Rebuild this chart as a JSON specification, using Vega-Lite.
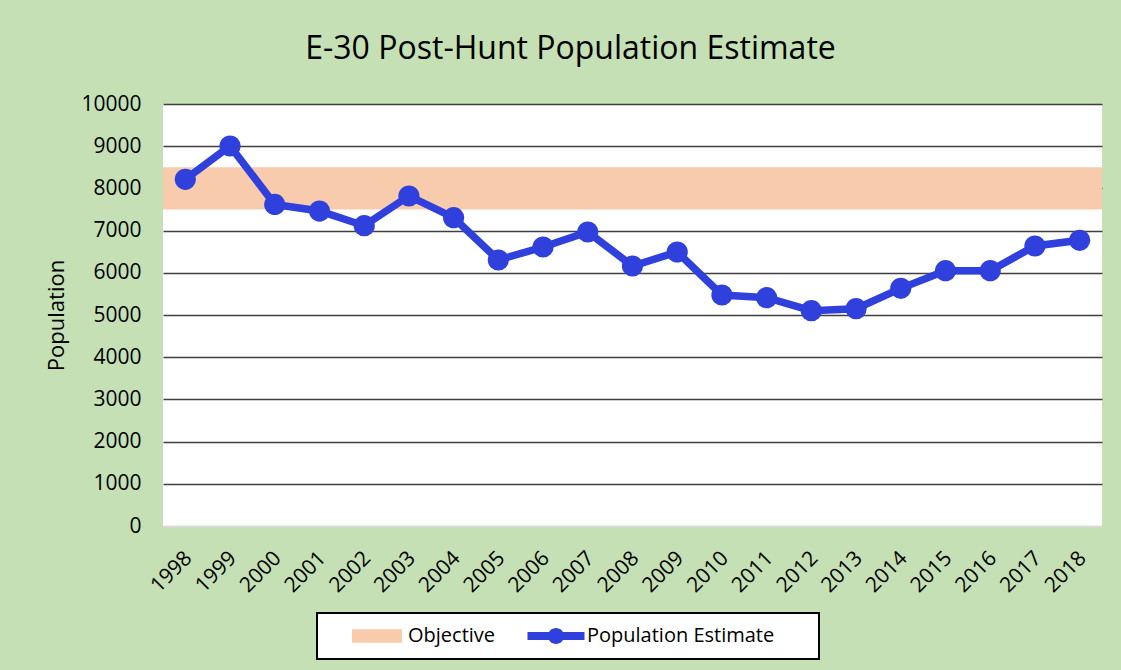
{
  "$schema": "https://vega.github.io/schema/vega-lite/v6.json",
  "width": 939,
  "height": 422,
  "autosize": {"type": "none"},
  "padding": {"left": 163, "top": 104, "right": 19, "bottom": 144},
  "background": "#C5E0B4",
  "title": {
    "text": "E-30 Post-Hunt Population Estimate",
    "font": "Open Sans",
    "fontSize": 32,
    "fontWeight": "normal",
    "color": "#000000",
    "anchor": "middle",
    "frame": "group",
    "dx": -62,
    "offset": 27
  },
  "config": {
    "view": {"fill": "#FFFFFF", "stroke": null},
    "font": "Open Sans"
  },
  "datasets": {
    "pop": [
      {"year": "1998", "value": 8215, "series": "Population Estimate"},
      {"year": "1999", "value": 9005, "series": "Population Estimate"},
      {"year": "2000", "value": 7620, "series": "Population Estimate"},
      {"year": "2001", "value": 7464, "series": "Population Estimate"},
      {"year": "2002", "value": 7116, "series": "Population Estimate"},
      {"year": "2003", "value": 7820, "series": "Population Estimate"},
      {"year": "2004", "value": 7306, "series": "Population Estimate"},
      {"year": "2005", "value": 6303, "series": "Population Estimate"},
      {"year": "2006", "value": 6611, "series": "Population Estimate"},
      {"year": "2007", "value": 6967, "series": "Population Estimate"},
      {"year": "2008", "value": 6161, "series": "Population Estimate"},
      {"year": "2009", "value": 6493, "series": "Population Estimate"},
      {"year": "2010", "value": 5474, "series": "Population Estimate"},
      {"year": "2011", "value": 5410, "series": "Population Estimate"},
      {"year": "2012", "value": 5102, "series": "Population Estimate"},
      {"year": "2013", "value": 5150, "series": "Population Estimate"},
      {"year": "2014", "value": 5632, "series": "Population Estimate"},
      {"year": "2015", "value": 6050, "series": "Population Estimate"},
      {"year": "2016", "value": 6050, "series": "Population Estimate"},
      {"year": "2017", "value": 6635, "series": "Population Estimate"},
      {"year": "2018", "value": 6770, "series": "Population Estimate"}
    ],
    "band": [
      {"lo": 7500, "hi": 8500, "series": "Objective"}
    ]
  },
  "layer": [
    {
      "data": {"name": "band"},
      "mark": {"type": "rect", "opacity": 1},
      "encoding": {
        "y": {"field": "lo", "type": "quantitative", "scale": {"domain": [0, 10000], "nice": false}},
        "y2": {"field": "hi"},
        "color": {
          "field": "series",
          "type": "nominal",
          "scale": {"domain": ["Objective", "Population Estimate"], "range": ["#F8CBAD", "#3040DD"]},
          "legend": {
            "title": " ",
            "titleOrient": "right",
            "titlePadding": 32,
            "titleFontSize": 20,
            "orient": "none",
            "direction": "horizontal",
            "columns": 2,
            "legendX": 154,
            "legendY": 509,
            "padding": 13,
            "columnPadding": 13,
            "symbolSize": 400,
            "symbolOffset": 37,
            "labelOffset": 21,
            "labelLimit": 400,
            "labelFontSize": 20,
            "labelColor": "#000000",
            "labelFont": "Open Sans",
            "fillColor": "#FFFFFF",
            "strokeColor": "#000000",
            "symbolOpacity": 1,
            "symbolStrokeWidth": 0,
            "encode": {
              "legend": {"update": {"strokeWidth": {"value": 2}}},
              "symbols": {
                "update": {
                  "shape": {"signal": "datum.value === 'Objective' ? 'M-2.5,-0.68L2.5,-0.68L2.5,0.68L-2.5,0.68Z' : 'M-2.85,-0.4L2.85,-0.4L2.85,0.4L-2.85,0.4Z M-0.8,0A0.8,0.8 0 1,1 0.8,0A0.8,0.8 0 1,1 -0.8,0Z'"},
                  "fill": {"signal": "datum.value === 'Objective' ? '#F8CBAD' : '#3040DD'"},
                  "strokeWidth": {"value": 0},
                  "opacity": {"value": 1}
                }
              }
            }
          }
        }
      }
    },
    {
      "data": {"name": "pop"},
      "mark": {"type": "line", "strokeWidth": 7.5, "point": {"size": 450, "filled": true, "opacity": 1}},
      "encoding": {
        "x": {
          "field": "year",
          "type": "ordinal",
          "axis": {
            "title": null,
            "labelAngle": -45,
            "labelAlign": "right",
            "labelBaseline": "top",
            "labelFontSize": 21,
            "labelColor": "#000000",
            "labelPadding": 21,
            "labelOffset": -5,
            "ticks": false,
            "domain": true,
            "domainColor": "#D9D9D9",
            "domainWidth": 1.5
          }
        },
        "y": {
          "field": "value",
          "type": "quantitative",
          "scale": {"domain": [0, 10000], "nice": false},
          "axis": {
            "title": "Population",
            "titleFontSize": 22,
            "titleFontWeight": "normal",
            "titleColor": "#000000",
            "titlePadding": 12,
            "values": [0, 1000, 2000, 3000, 4000, 5000, 6000, 7000, 8000, 9000, 10000],
            "format": "d",
            "labelFontSize": 21,
            "labelColor": "#000000",
            "labelPadding": 22,
            "ticks": false,
            "domain": false,
            "grid": true,
            "gridColor": {"condition": {"test": "datum.value === 0", "value": "#D9D9D9"}, "value": "#3F3F3F"},
            "gridWidth": 1.4,
            "gridOpacity": 1
          }
        },
        "color": {"field": "series", "type": "nominal"}
      }
    }
  ]
}
